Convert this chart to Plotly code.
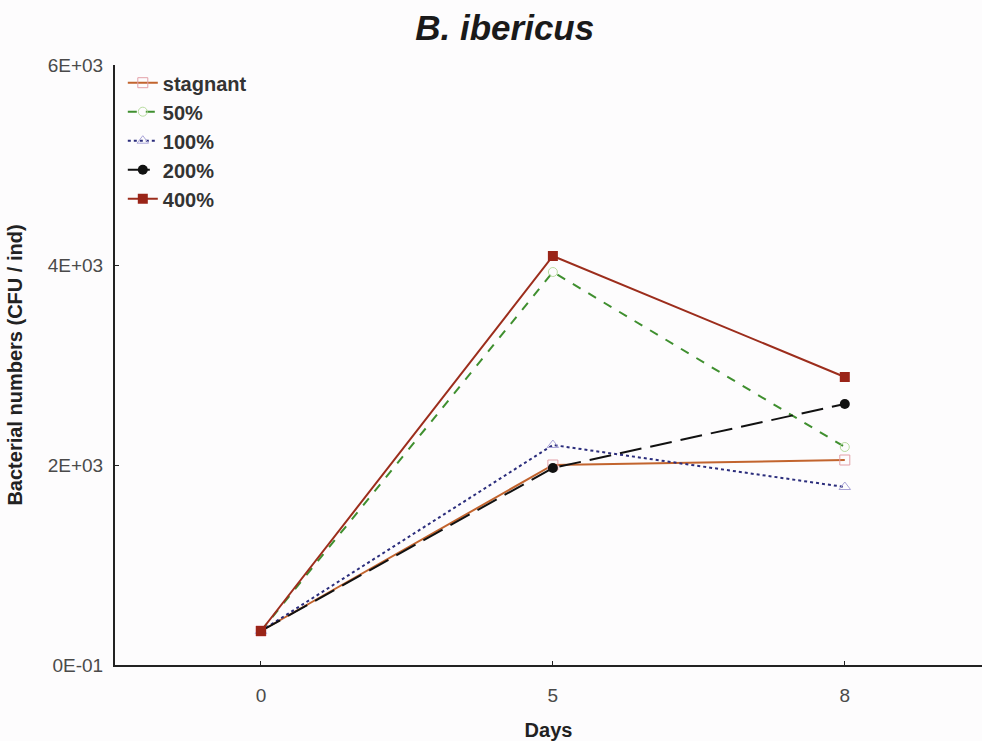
import plotly.graph_objects as go

# Sampling days and bacterial counts per flow treatment
days = ["0", "5", "8"]
series_names = ["stagnant", "50%", "100%", "200%", "400%"]
stagnant = [340, 2000, 2050]
flow_50 = [340, 3930, 2180]
flow_100 = [340, 2200, 1780]
flow_200 = [340, 1970, 2610]
flow_400 = [340, 4090, 2880]

y_tick_values = [0, 2000, 4000, 6000]
y_tick_labels = ["0E-01", "2E+03", "4E+03", "6E+03"]

values = [stagnant, flow_50, flow_100, flow_200, flow_400]

styles = [
    dict(line=dict(color="#c2642e", width=2, dash="solid"),
         marker=dict(symbol="square-open", size=10, color="#e3a0a8", line=dict(width=1))),
    dict(line=dict(color="#3f8f2f", width=2, dash="dash"),
         marker=dict(symbol="circle-open", size=9, color="#b8dca0", line=dict(width=1))),
    dict(line=dict(color="#2b2d7c", width=2, dash="dot"),
         marker=dict(symbol="triangle-up-open", size=10, color="#a9a4d8", line=dict(width=1))),
    dict(line=dict(color="#111111", width=2, dash="22px,9px"),
         marker=dict(symbol="circle", size=10, color="#111111")),
    dict(line=dict(color="#9c2d1c", width=2, dash="solid"),
         marker=dict(symbol="square", size=10, color="#9a2418")),
]

xpos = list(range(len(days)))

fig = go.Figure()
for name, vals, st in zip(series_names, values, styles):
    fig.add_trace(go.Scatter(
        x=xpos, y=vals, name=name, mode="lines+markers",
        legendgroup=name, line=st["line"], marker=st["marker"],
    ))

family = "Liberation Sans, Arial, sans-serif"
axis_font = dict(family=family, size=19, color="#4a4a4a")
title_font = dict(family=family, size=20, color="#222222")

fig.update_layout(
    width=982, height=741,
    paper_bgcolor="#fdfcfd", plot_bgcolor="#fdfcfd",
    margin=dict(l=115, r=0, t=65, b=76),
    title=dict(text="<b><i>B. ibericus</i></b>", x=0.514, xanchor="center",
               y=0.962, yanchor="middle",
               font=dict(family=family, size=35, color="#1a1a1a")),
    showlegend=True,
    legend=dict(x=0.009, y=1.003, xanchor="left", yanchor="top",
                bgcolor="rgba(0,0,0,0)", tracegroupgap=0, itemwidth=30,
                font=dict(family=family, size=20, color="#333333", weight="bold"),
                traceorder="normal"),
    xaxis=dict(
        range=[-0.5, 2.47], tickmode="array", tickvals=xpos, ticktext=days,
        showgrid=False, zeroline=False, showline=True, linecolor="#222222", linewidth=2,
        ticks="inside", ticklen=4, tickcolor="#222222", tickfont=axis_font,
        ticklabelstandoff=12,
        title=dict(text="<b>Days</b>", standoff=22, font=title_font),
    ),
    yaxis=dict(
        range=[0, 6000], tickmode="array", tickvals=y_tick_values, ticktext=y_tick_labels,
        showgrid=False, zeroline=False, showline=True, linecolor="#222222", linewidth=2,
        ticks="inside", ticklen=4, tickcolor="#222222", tickfont=axis_font,
        ticklabelstandoff=6,
        title=dict(text="<b>Bacterial numbers (CFU / ind)</b>", standoff=20, font=title_font),
    ),
)

fig.write_html("out.html")
